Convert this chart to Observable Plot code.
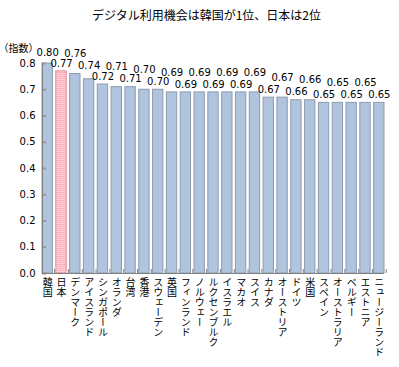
<!DOCTYPE html>
<html><head><meta charset="utf-8">
<script src="https://cdn.jsdelivr.net/npm/d3@7"></script>
<script src="https://cdn.jsdelivr.net/npm/@observablehq/plot@0.6"></script>
<style>
body{margin:0;background:#fff;font-family:"Noto Sans CJK JP",sans-serif;}
#title{height:28px;line-height:30px;font-size:12px;text-align:center;padding-left:14px;width:385px;color:#000;}
#chart svg{display:block;}
</style></head><body>
<div id="title"></div>
<div id="chart"></div>
<script>
const titleText = "デジタル利用機会は韓国が1位、日本は2位";
const unitLabel = "（指数）";
const countries = ["韓国","日本","デンマーク","アイスランド","シンガポール","オランダ","台湾","香港","スウェーデン","英国","フィンランド","ノルウェー","ルクセンブルク","イスラエル","マカオ","スイス","カナダ","オーストリア","ドイツ","米国","スペイン","オーストラリア","ベルギー","エストニア","ニュージーランド"];
const values = [0.80,0.77,0.76,0.74,0.72,0.71,0.71,0.70,0.70,0.69,0.69,0.69,0.69,0.69,0.69,0.69,0.67,0.67,0.66,0.66,0.65,0.65,0.65,0.65,0.65];
const highlight = "日本";
const yTicks = [0,0.1,0.2,0.3,0.4,0.5,0.6,0.7,0.8];

document.getElementById("title").textContent = titleText;

const data = countries.map((c, i) => ({country: c, value: values[i], i}));

// label stagger (pixels above bar top)
const lift = i => i === 0 ? 11 : i === 2 ? 20 : i === 3 ? 13 : (i >= 5 && i % 2 === 1) ? 20 : 8;
const liftGroups = Array.from(new Set(data.map(d => lift(d.i))));

const W = 399, H = 339, mL = 42, mR = 15, mT = 35, mB = 94;
const plotW = W - mL - mR, plotH = H - mT - mB;
const step = plotW / (countries.length - 0.25);
const numFont = "DejaVu Sans, sans-serif";
const jpFont = "Noto Sans CJK JP, sans-serif";

const plot = Plot.plot({
  width: W, height: H,
  marginLeft: mL, marginRight: mR, marginTop: mT, marginBottom: mB,
  style: {fontFamily: jpFont, fontSize: "10px", color: "#000", background: "#fff", overflow: "visible"},
  x: {domain: countries, paddingInner: 0.25, paddingOuter: 0, round: false, axis: null},
  y: {domain: [0, 0.8], axis: null},
  marks: [
    Plot.barY(data.filter(d => d.country !== highlight), {x: "country", y: "value", fill: "#b0c4de", stroke: "#8e9cb0", strokeWidth: 1}),
    Plot.barY(data.filter(d => d.country === highlight), {x: "country", y: "value", fill: "url(#jpStripe)", stroke: "#e38a98", strokeWidth: 1}),
    Plot.ruleY(yTicks, {y: d => d, stroke: "#999", strokeWidth: 2, insetRight: plotW - 4}),
    Plot.text(yTicks, {y: d => d, frameAnchor: "left", dx: -7, textAnchor: "end", text: d => d.toFixed(1), fontFamily: numFont, fontSize: 10, fill: "#000"}),
    Plot.ruleY([0], {stroke: "#808080"}),
    Plot.frame({anchor: "left", stroke: "#808080"}),
    Plot.ruleX(countries, {x: d => d, dx: step / 2, insetTop: plotH - 4, stroke: "#808080"}),
    ...liftGroups.map(g => Plot.text(data.filter(d => lift(d.i) === g), {x: "country", y: "value", text: d => d.value.toFixed(2), dy: -g, fontFamily: numFont, fontSize: 10, fill: "#000"})),
    Plot.text([unitLabel], {frameAnchor: "top-left", dx: -44, dy: -19, textAnchor: "start", text: d => d, fontSize: 10, fill: "#000"}),
    Plot.text(countries, {x: d => d, frameAnchor: "bottom", dy: 4, text: d => d, fontSize: 10, fill: "#000", className: "xlab"})
  ]
});

const svg = d3.select(plot);
const defs = svg.insert("defs", ":first-child");
const pat = defs.append("pattern").attr("id", "jpStripe").attr("patternUnits", "userSpaceOnUse").attr("width", 4).attr("height", 2);
pat.append("rect").attr("width", 4).attr("height", 2).attr("fill", "#ffadbb");
pat.append("rect").attr("y", 1).attr("width", 4).attr("height", 1).attr("fill", "#ffd3da");

svg.selectAll(".xlab text")
  .attr("dy", null)
  .attr("writing-mode", "vertical-rl")
  .style("writing-mode", "vertical-rl")
  .attr("text-anchor", "start");

document.getElementById("chart").appendChild(plot);
</script>
</body></html>
